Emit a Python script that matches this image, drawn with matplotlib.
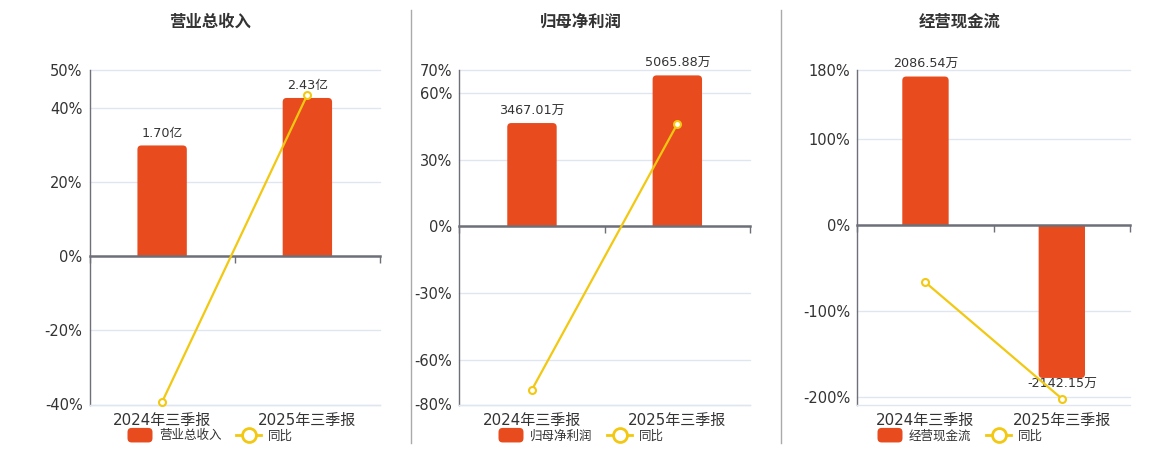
import matplotlib
matplotlib.use("Agg")
import matplotlib.pyplot as plt
from matplotlib.patches import FancyBboxPatch, Rectangle
from matplotlib.lines import Line2D
from matplotlib.legend_handler import HandlerPatch

plt.rcParams['font.family'] = ['DejaVu Sans', 'Noto Sans CJK SC']

# ---------------- data ----------------
categories = ["2024年三季报", "2025年三季报"]

titles = ["营业总收入", "归母净利润", "经营现金流"]

revenue_values = [1.70, 2.43]            # 亿
revenue_labels = ["1.70亿", "2.43亿"]
revenue_yoy = [-39.3, 43.5]              # %

profit_values = [3467.01, 5065.88]       # 万
profit_labels = ["3467.01万", "5065.88万"]
profit_yoy = [-73.3, 46.0]               # %

cash_values = [2086.54, -2142.15]        # 万
cash_labels = ["2086.54万", "-2142.15万"]
cash_yoy = [-66.5, -201.7]               # %

pct_ticks_1 = [-40, -20, 0, 20, 40, 50]
pct_ticks_2 = [-80, -60, -30, 0, 30, 60, 70]
pct_ticks_3 = [-200, -100, 0, 100, 180]

# ---------------- style ----------------
BAR_C = '#E84B1D'
LINE_C = '#F2C811'
TXT_C = '#333333'
AXIS_C = '#6E7079'
GRID_C = '#E0E6F1'

W, H = 1160, 450
fig = plt.figure(figsize=(W / 100, H / 100), dpi=100)
fig.patch.set_facecolor('white')

panels = [
    dict(title=titles[0], vals=revenue_values, labels=revenue_labels, yoy=revenue_yoy,
         ticks=pct_ticks_1, plim=(-40, 50), bar_top=2.852, px=(89.5, 380), tcx=210),
    dict(title=titles[1], vals=profit_values, labels=profit_labels, yoy=profit_yoy,
         ticks=pct_ticks_2, plim=(-80, 70), bar_top=5230.0, px=(459.3, 750), tcx=581),
    dict(title=titles[2], vals=cash_values, labels=cash_labels, yoy=cash_yoy,
         ticks=pct_ticks_3, plim=(-208.5, 180), bar_top=2171.0, px=(857.3, 1130), tcx=960),
]

top_px, bot_px = 70.5, 404.5
xlim = (-0.5, 1.5)
xs = list(range(len(categories)))


class RoundHandler(HandlerPatch):
    def __init__(self):
        super().__init__(patch_func=self._make)

    @staticmethod
    def _make(legend, orig_handle, xdescent, ydescent, width, height, fontsize):
        return FancyBboxPatch((-xdescent, -ydescent - 1.5), width, height + 3,
                              boxstyle="round,pad=0,rounding_size=3")


for p in panels:
    l_px, r_px = p['px']
    rect = [l_px / W, 1 - bot_px / H, (r_px - l_px) / W, (bot_px - top_px) / H]
    lo, hi = p['plim']
    blo = lo / hi * p['bar_top']
    bhi = p['bar_top']

    # ---- base axes: percent scale, grid, ticks ----
    ax = fig.add_axes(rect)
    ax.set_xlim(*xlim)
    ax.set_ylim(lo, hi)
    ax.set_yticks(p['ticks'])
    ax.set_yticklabels([f"{t}%" for t in p['ticks']])
    ax.set_xticks(xs)
    ax.set_xticklabels(categories)
    ax.tick_params(axis='y', length=0, labelsize=10.5, labelcolor=TXT_C, pad=5)
    ax.tick_params(axis='x', length=0, labelsize=10.8, labelcolor=TXT_C, pad=6)
    ax.grid(axis='y', color=GRID_C, linewidth=1)
    for gl in ax.get_ygridlines():
        gl.set_clip_on(False)
    ax.set_axisbelow(True)
    for s in ['top', 'right']:
        ax.spines[s].set_visible(False)
    ax.spines['bottom'].set_color(GRID_C)
    ax.spines['bottom'].set_linewidth(1)
    ax.spines['left'].set_color(AXIS_C)
    ax.spines['left'].set_linewidth(1)

    # ---- bar axes: value scale aligned on zero ----
    axb = fig.add_axes(rect)
    axb.patch.set_visible(False)
    axb.set_xlim(*xlim)
    axb.set_ylim(blo, bhi)
    bars = axb.bar(xs, p['vals'], width=0.34, color=BAR_C)
    # rounded far-end corners
    ax_w_px = r_px - l_px
    ax_h_px = bot_px - top_px
    x_per_px = (xlim[1] - xlim[0]) / ax_w_px
    y_per_px = (bhi - blo) / ax_h_px
    for b in bars:
        x0 = b.get_x()
        w = b.get_width()
        h = b.get_height()
        b.set_visible(False)
        ext = 8 * y_per_px
        if h >= 0:
            fb = FancyBboxPatch((x0, -ext), w, h + ext,
                                boxstyle=f"round,pad=0,rounding_size={4 * x_per_px}",
                                mutation_aspect=y_per_px / x_per_px,
                                facecolor=BAR_C, edgecolor='none')
            clip = Rectangle((x0 - 1, 0), w + 2, h + 1, transform=axb.transData)
        else:
            fb = FancyBboxPatch((x0, h), w, -h + ext,
                                boxstyle=f"round,pad=0,rounding_size={4 * x_per_px}",
                                mutation_aspect=y_per_px / x_per_px,
                                facecolor=BAR_C, edgecolor='none')
            clip = Rectangle((x0 - 1, h - 1), w + 2, -h + 1, transform=axb.transData)
        axb.add_patch(fb)
        fb.set_clip_path(clip)
    for x, v, lab in zip(xs, p['vals'], p['labels']):
        if v >= 0:
            axb.annotate(lab, (x, v), xytext=(0, 4), textcoords='offset points',
                         ha='center', va='bottom', fontsize=9.2, color=TXT_C)
        else:
            axb.annotate(lab, (x, v), xytext=(0, 0), textcoords='offset points',
                         ha='center', va='top', fontsize=9.2, color=TXT_C)
    for s in ['top', 'right', 'left']:
        axb.spines[s].set_visible(False)
    axb.spines['bottom'].set_position(('data', 0))
    axb.spines['bottom'].set_color(AXIS_C)
    axb.spines['bottom'].set_linewidth(1.8)
    axb.set_yticks([])
    axb.set_xticks([-0.5, 0.5, 1.5])
    axb.set_xticklabels([])
    axb.tick_params(axis='x', direction='out', length=5, color=AXIS_C, width=1)

    # ---- line axes: percent scale, on top ----
    axl = fig.add_axes(rect)
    axl.patch.set_visible(False)
    axl.set_xlim(*xlim)
    axl.set_ylim(lo, hi)
    axl.axis('off')
    axl.plot(xs, p['yoy'], color=LINE_C, linewidth=1.6, marker='o', markersize=5,
             markerfacecolor='white', markeredgecolor=LINE_C, markeredgewidth=1.5,
             clip_on=False)

    # ---- title ----
    fig.text(p['tcx'] / W, 1 - 22 / H, p['title'], ha='center', va='center',
             fontsize=11.8, fontweight='bold', color=TXT_C,
             family=['Noto Sans CJK SC', 'DejaVu Sans'])

    # ---- legend ----
    h_bar = Rectangle((0, 0), 1, 1, facecolor=BAR_C, edgecolor='none')
    h_line = Line2D([], [], color=LINE_C, linewidth=2, marker='o', markersize=10,
                    markerfacecolor='white', markeredgecolor=LINE_C, markeredgewidth=2)
    fig.legend([h_bar, h_line], [p['title'], '同比'],
               loc='center', bbox_to_anchor=(p['tcx'] / W, 1 - 436 / H),
               ncol=2, frameon=False, handlelength=2.0,
               handleheight=0.9, handletextpad=0.5, columnspacing=1.2,
               labelcolor=TXT_C, numpoints=1,
               handler_map={Rectangle: RoundHandler()},
               prop={'family': ['Noto Sans CJK SC', 'DejaVu Sans'], 'size': 9})

# separators
for xsep in [410.5, 780.5]:
    fig.add_artist(Line2D([xsep / W, xsep / W], [1 - 10 / H, 1 - 443 / H],
                          transform=fig.transFigure, color='#AAAAAA', linewidth=1))

fig.savefig('out.png', dpi=100, facecolor='white')
